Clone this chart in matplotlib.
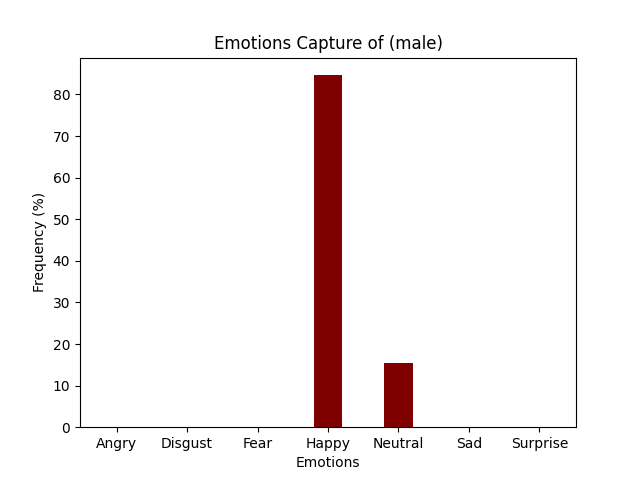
import matplotlib
matplotlib.use("Agg")
import matplotlib.pyplot as plt

emotions = ['Angry', 'Disgust', 'Fear', 'Happy', 'Neutral', 'Sad', 'Surprise']
freq = [0, 0, 0, 84.62, 15.38, 0, 0]

fig, ax = plt.subplots(figsize=(6.4, 4.8), dpi=100)
ax.bar(emotions, freq, color='maroon', width=0.4)
ax.set_xlabel('Emotions')
ax.set_ylabel('Frequency (%)')
ax.set_title('Emotions Capture of (male)')
fig.savefig('out.png')
